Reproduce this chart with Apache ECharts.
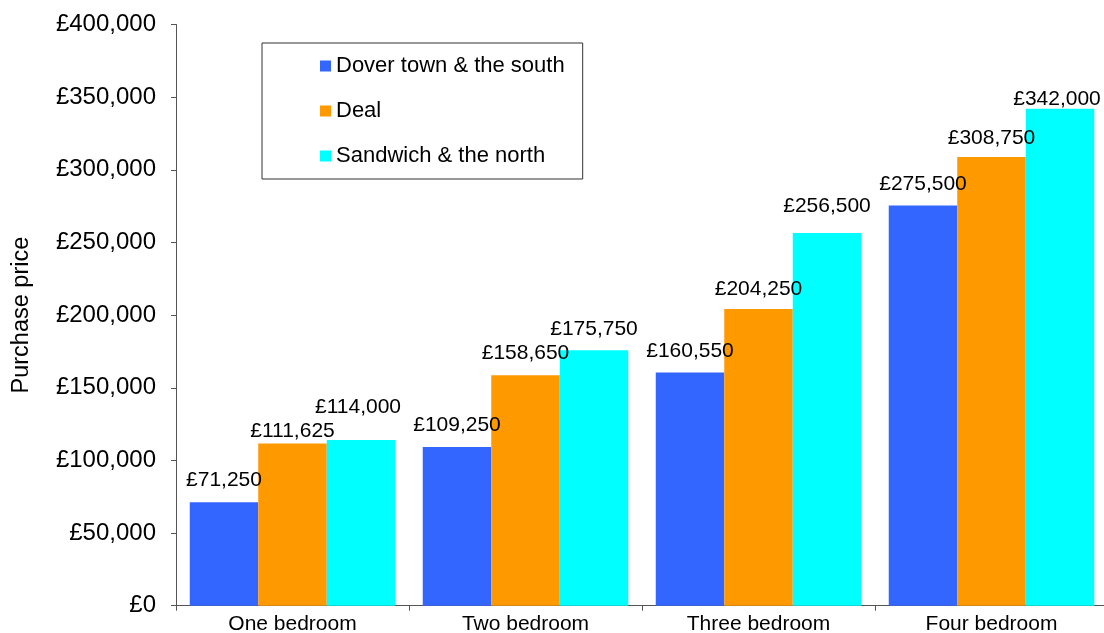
<!DOCTYPE html>
<html>
<head>
<meta charset="utf-8">
<script src="https://cdn.jsdelivr.net/npm/echarts@6/dist/echarts.min.js"></script>
<style>html,body{margin:0;padding:0;background:#fff;overflow:hidden;width:1104px;height:633px;}#c{width:1108px;height:633px;}</style>
</head>
<body>
<div id="c"></div>
<script>
const categories = ['One bedroom', 'Two bedroom', 'Three bedroom', 'Four bedroom'];
const seriesNames = ['Dover town & the south', 'Deal', 'Sandwich & the north'];
const doverValues = [71250, 109250, 160550, 275500];
const dealValues = [111625, 158650, 204250, 308750];
const sandwichValues = [114000, 175750, 256500, 342000];
const yTicks = { min: 0, max: 400000, interval: 50000 };

// label nudges (style only): [dx, dy] per bar
const labelNudge = [
  [[0, 0], [0, 0], [0, 0], [0, 0]],
  [[0, 9], [0, 0], [0, 2], [0, 3]],
  [[-3, -11], [0, 0], [0, -5], [-3, 12]]
];
const colors = ['#3366FF', '#FF9900', '#00FFFF'];
const valuesList = [doverValues, dealValues, sandwichValues];

const fmt = v => '£' + v.toLocaleString('en-GB');

const chart = echarts.init(document.getElementById('c'));
chart.setOption({
  animation: false,
  textStyle: { fontFamily: 'Liberation Sans, Arial, sans-serif', color: '#000' },
  grid: { left: 176, top: 24.5, right: 0, bottom: 27.3, containLabel: false, outerBoundsMode: 'none' },
  legend: {
    orient: 'vertical',
    left: 262, top: 43,
    padding: [12, 18, 12, 58],
    itemGap: 23,
    itemWidth: 11, itemHeight: 11,
    icon: 'rect',
    borderColor: '#333', borderWidth: 1,
    backgroundColor: '#fff',
    textStyle: { fontSize: 22, color: '#000', fontFamily: 'Liberation Sans, Arial, sans-serif' },
    data: seriesNames
  },
  xAxis: {
    type: 'category',
    data: categories,
    axisLine: { lineStyle: { color: '#555', width: 1 } },
    axisTick: { show: true, length: 5, alignWithLabel: false, lineStyle: { color: '#555' } },
    axisLabel: { fontSize: 21, color: '#000', margin: 8 },
    splitLine: { show: false }
  },
  yAxis: {
    type: 'value',
    min: yTicks.min, max: yTicks.max, interval: yTicks.interval,
    name: 'Purchase price',
    nameLocation: 'middle',
    nameRotate: 90,
    nameGap: 142,
    nameTextStyle: { fontSize: 23.5, color: '#000' },
    axisLine: { show: true, lineStyle: { color: '#555', width: 1 } },
    axisTick: { show: true, length: 5, lineStyle: { color: '#555' } },
    axisLabel: { fontSize: 24, color: '#000', margin: 20, formatter: fmt },
    splitLine: { show: false }
  },
  series: valuesList.map((vals, si) => ({
    name: seriesNames[si],
    type: 'bar',
    barGap: '0%',
    barCategoryGap: '11.8%',
    itemStyle: { color: colors[si] },
    label: {
      show: true, position: 'top', distance: 11,
      fontSize: 21, color: '#000',
      formatter: p => fmt(p.value)
    },
    data: vals.map((v, i) => ({ value: v, label: { offset: labelNudge[si][i] } }))
  }))
});
</script>
</body>
</html>
